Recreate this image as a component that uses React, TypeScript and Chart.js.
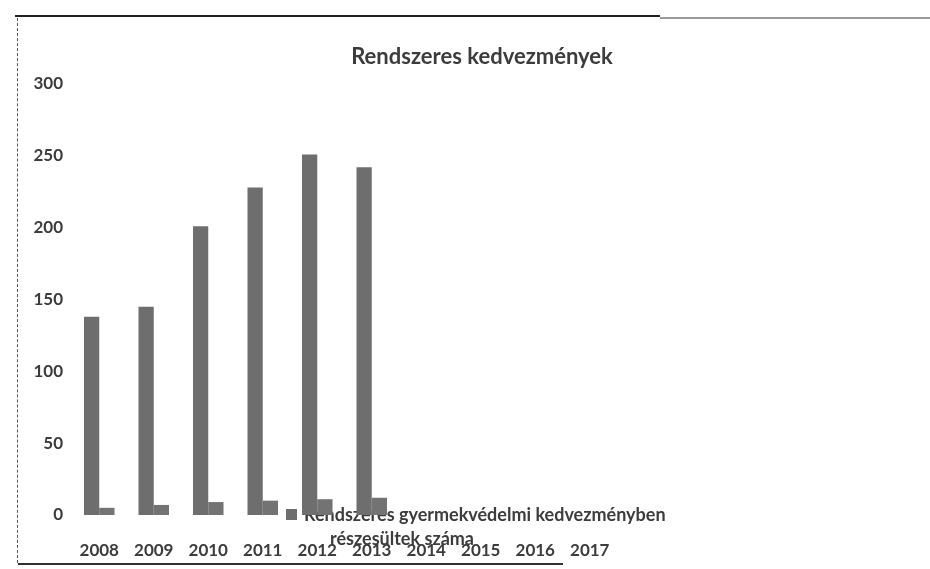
import React, { useEffect, useRef } from "react";
import { Chart, registerables } from "chart.js";

Chart.register(...registerables);

const title = "Rendszeres kedvezmények";
const years = ["2008", "2009", "2010", "2011", "2012", "2013", "2014", "2015", "2016", "2017"];
const seriesMainLabel = "Rendszeres gyermekvédelmi kedvezményben részesültek száma";
const seriesMain = [138, 145, 201, 228, 251, 242, null, null, null, null];
const seriesSmallLabel = "Egyéb";
const seriesSmall = [5, 7, 9, 10, 11, 12, null, null, null, null];
const legendLines = ["Rendszeres gyermekvédelmi kedvezményben", "részesültek száma"];
const yTicks = [0, 50, 100, 150, 200, 250, 300];

const FONT = "Lato, 'Open Sans', sans-serif";
const TEXT = "#3c3c3c";
const BAR = "#6e6e6e";

const overlayPlugin = {
  id: "overlay",
  beforeDatasetsDraw(chart: any) {
    const { ctx, chartArea } = chart;
    ctx.save();
    // legend (drawn beneath bars, as in the scan)
    ctx.fillStyle = BAR;
    ctx.fillRect(chartArea.left + 214, chartArea.bottom - 6, 11, 11);
    ctx.fillStyle = TEXT;
    ctx.font = `bold 18px ${FONT}`;
    ctx.textBaseline = "middle";
    ctx.textAlign = "left";
    ctx.fillText(legendLines[0], chartArea.left + 232, chartArea.bottom);
    ctx.fillText(legendLines[1], chartArea.left + 258, chartArea.bottom + 24);
    ctx.restore();
  },
  afterDraw(chart: any) {
    const { ctx } = chart;
    ctx.save();
    ctx.fillStyle = TEXT;
    ctx.font = `bold 22px ${FONT}`;
    ctx.textAlign = "center";
    ctx.textBaseline = "middle";
    ctx.fillText(title, 482, 57);
    ctx.restore();
  },
};

export default function App() {
  const ref = useRef<HTMLCanvasElement>(null);
  useEffect(() => {
    document.body.style.margin = "0";
    const chart = new Chart(ref.current!, {
      type: "bar",
      data: {
        labels: years,
        datasets: [
          { label: seriesMainLabel, data: seriesMain, backgroundColor: BAR },
          { label: seriesSmallLabel, data: seriesSmall, backgroundColor: "#737373" },
        ],
      },
      plugins: [overlayPlugin],
      options: {
        animation: false,
        responsive: false,
        devicePixelRatio: 1,
        layout: { padding: { top: 84, right: 313, bottom: 0, left: 0 } },
        datasets: { bar: { categoryPercentage: 0.56, barPercentage: 1.0 } },
        plugins: {
          legend: { display: false },
          title: { display: false },
          tooltip: { enabled: false },
        },
        scales: {
          x: {
            afterFit(s: any) { s.height = 54; },
            grid: { display: false, drawTicks: false },
            border: { display: false },
            ticks: { color: TEXT, font: { family: FONT, size: 17, weight: "bold" }, padding: 25, maxRotation: 0 },
          },
          y: {
            min: 0,
            max: 300,
            afterFit(s: any) { s.width = 72; },
            afterBuildTicks(s: any) { s.ticks = yTicks.map((v) => ({ value: v })); },
            grid: { display: false, drawTicks: false },
            border: { display: false },
            ticks: { color: TEXT, font: { family: FONT, size: 17, weight: "bold" }, padding: 9 },
          },
        },
      },
    });
    return () => chart.destroy();
  }, []);
  return (
    <div style={{ position: "fixed", left: 0, top: 0, width: 930, height: 569, background: "#fff" }}>
      <canvas ref={ref} width={930} height={569} style={{ position: "absolute", left: 0, top: 0 }} />
      <div style={{ position: "absolute", left: 15, top: 15, width: 645, height: 0, borderTop: "2px solid #222" }} />
      <div style={{ position: "absolute", left: 660, top: 17, width: 270, height: 0, borderTop: "2px solid #999" }} />
      <div style={{ position: "absolute", left: 17, top: 18, width: 0, height: 545, borderLeft: "1px dashed #555" }} />
      <div style={{ position: "absolute", left: 18, top: 563, width: 545, height: 0, borderTop: "2px solid #333" }} />
    </div>
  );
}
